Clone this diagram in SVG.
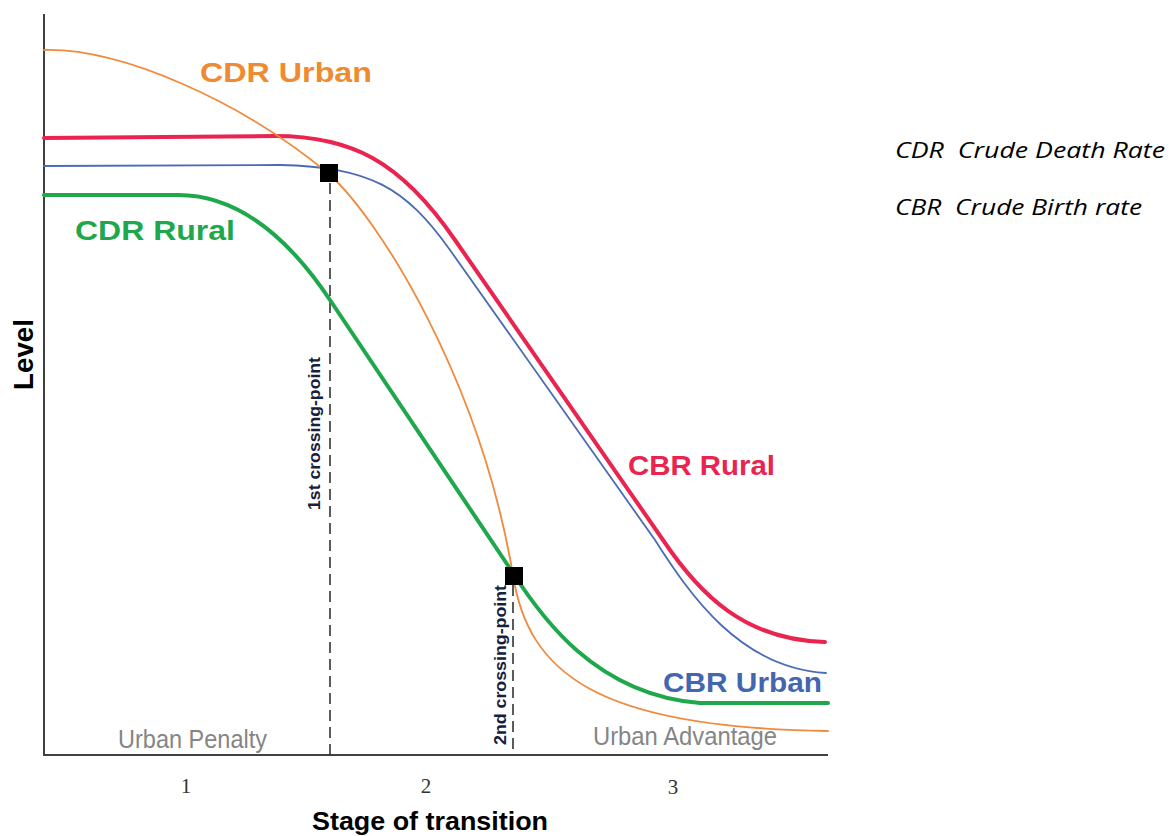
<svg xmlns="http://www.w3.org/2000/svg" width="1169" height="836" viewBox="0 0 1169 836">
<style>
.axis{stroke:#404040;stroke-width:2;fill:none}
.thin{fill:none;stroke-width:1.8;stroke-linecap:round;stroke-linejoin:round}
.thick{fill:none;stroke-width:4;stroke-linecap:round;stroke-linejoin:round}
.dash{stroke:#333;stroke-width:1.6;stroke-dasharray:11,6;fill:none}
.lbl{font-family:"Liberation Sans",Arial,sans-serif;font-weight:bold;font-size:28px}
.zone{font-family:"Liberation Sans",Arial,sans-serif;font-size:25px;fill:#858585}
.num{font-family:"Liberation Serif","Times New Roman",serif;font-size:21px;fill:#333}
.cross{font-family:"Liberation Sans",Arial,sans-serif;font-weight:bold;font-size:17px;fill:#14213d}
.ax{font-family:"Liberation Sans",Arial,sans-serif;font-weight:bold;font-size:26px;fill:#000}
.leg{font-family:"Open Sans","Noto Sans",sans-serif;font-style:italic;font-size:21px;fill:#000;white-space:pre}
</style>
<rect width="1169" height="836" fill="#fff"/>
<g id="axes">
<path class="axis" d="M44,14 L44,755 L828,755"/>
</g>
<g id="connectors">
<path class="dash" d="M330,183 L330,755"/>
<path class="dash" d="M513,585 L513,755"/>
</g>
<g id="cbr-rural">
<path class="thick" stroke="#e8244f" d="M44,138 L275,136 C350,136 400,160 455,240 L663,540 C700,595 745,640 825,642"/>
<text class="lbl" x="628" y="475" fill="#e8244f" textLength="147" lengthAdjust="spacingAndGlyphs">CBR Rural</text>
</g>
<g id="cbr-urban">
<path class="thin" stroke="#4a6bb5" d="M44,166 L280,165 C370,167 405,187 450,250 L655,540 C690,595 740,668 826,673"/>
<text class="lbl" x="663" y="692" fill="#4466b0" textLength="159" lengthAdjust="spacingAndGlyphs">CBR Urban</text>
</g>
<g id="cdr-rural">
<path class="thick" stroke="#1ea84b" d="M44,195 L178,195 C240,195 290,240 330,300 L513,573 C540,615 595,695 700,703 L828,703"/>
<text class="lbl" x="75" y="240" fill="#1ea84b" textLength="160" lengthAdjust="spacingAndGlyphs">CDR Rural</text>
</g>
<g id="cdr-urban">
<path class="thin" stroke="#f08a3c" d="M44,50 C120,48 240,100 329,174 C380,220 480,380 513,575 C528,672 595,728 828,731"/>
<text class="lbl" x="200" y="82" fill="#f08a30" textLength="172" lengthAdjust="spacingAndGlyphs">CDR Urban</text>
</g>
<g id="crossing-1">
<rect x="320" y="164" width="18" height="18" fill="#000"/>
<text class="cross" transform="translate(320,510) rotate(-90)" textLength="153" lengthAdjust="spacingAndGlyphs">1st crossing-point</text>
</g>
<g id="crossing-2">
<rect x="505" y="567" width="18" height="18" fill="#000"/>
<text class="cross" transform="translate(506,745) rotate(-90)" textLength="160" lengthAdjust="spacingAndGlyphs">2nd crossing-point</text>
</g>
<g id="zones">
<text class="zone" x="118" y="748" textLength="149" lengthAdjust="spacingAndGlyphs">Urban Penalty</text>
<text class="zone" x="593" y="745" textLength="184" lengthAdjust="spacingAndGlyphs">Urban Advantage</text>
</g>
<g id="stages">
<text class="num" x="186" y="793" text-anchor="middle">1</text>
<text class="num" x="426" y="793" text-anchor="middle">2</text>
<text class="num" x="673" y="794" text-anchor="middle">3</text>
</g>
<g id="axis-titles">
<text class="ax" x="312" y="830" textLength="236" lengthAdjust="spacingAndGlyphs">Stage of transition</text>
<text class="ax" transform="translate(33,390) rotate(-90)" style="font-size:28px" textLength="71" lengthAdjust="spacingAndGlyphs">Level</text>
</g>
<g id="legend">
<text class="leg" x="895" y="158" textLength="270" lengthAdjust="spacingAndGlyphs">CDR  Crude Death Rate</text>
<text class="leg" x="895" y="215" textLength="247" lengthAdjust="spacingAndGlyphs">CBR  Crude Birth rate</text>
</g>
</svg>
